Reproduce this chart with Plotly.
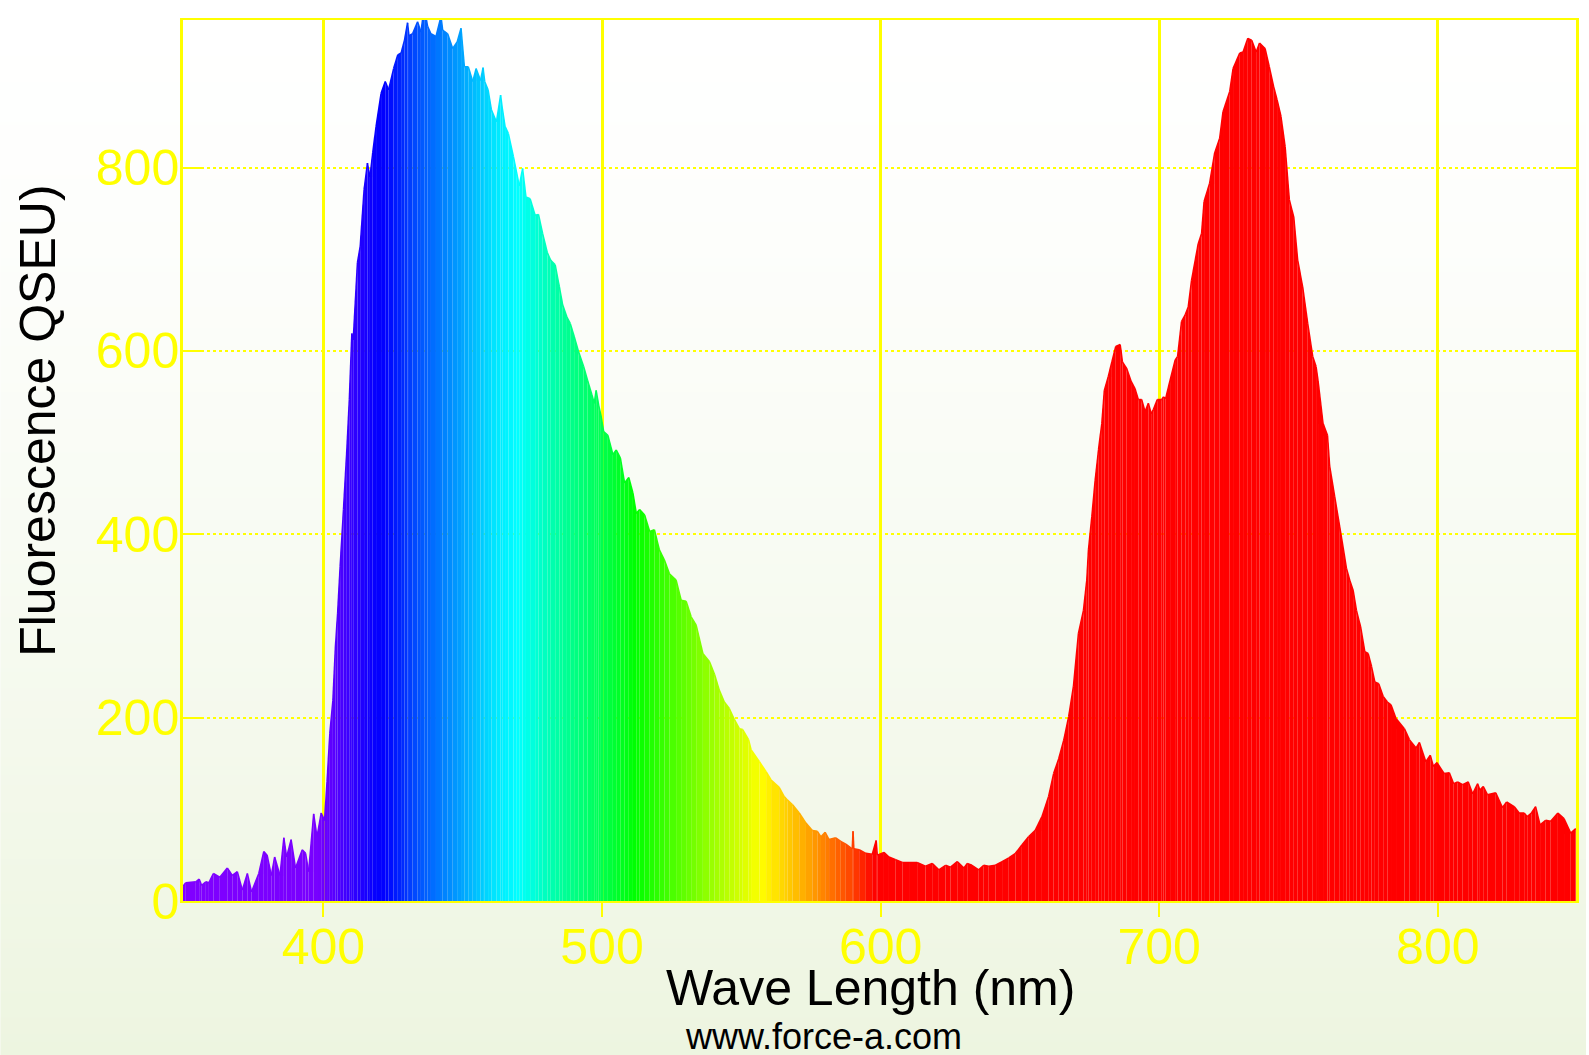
import base64
import struct
import zlib

import plotly.graph_objects as go

# ---------------- data ----------------
wavelength_nm = [
    349.6, 350.6, 354.2, 355.4, 356.3, 357.8, 358.9, 360.5, 362.8, 365.5,
    367.3, 369.1, 370.9, 372.7, 374.2, 376.8, 378.6, 379.8, 381.3, 382.5,
    384.4, 385.8, 386.8, 388.4, 390.0, 392.4, 393.6, 394.7, 396.5, 397.7,
    399.2, 400.4, 401.3, 402.3, 403.4, 404.3, 405.1, 406.0, 407.2, 408.4,
    409.3, 410.2, 410.7, 412.2, 413.2, 414.6, 415.8, 416.7, 417.7, 418.9,
    420.7, 422.2, 423.4, 425.2, 426.7, 427.9, 429.1, 430.2, 430.7, 432.0,
    433.8, 435.0, 436.2, 437.4, 438.6, 440.4, 442.2, 442.8, 444.6, 446.4,
    448.0, 449.4, 450.6, 452.0, 453.6, 454.8, 456.4, 457.3, 457.9, 459.1,
    460.3, 462.1, 463.6, 464.2, 465.2, 466.4, 468.2, 469.4, 470.3, 471.5,
    472.7, 474.2, 476.0, 477.2, 478.7, 480.4, 481.6, 483.2, 484.7, 485.9,
    487.4, 488.6, 490.0, 491.6, 493.4, 494.8, 496.4, 497.2, 497.9, 498.8,
    499.6, 500.6, 502.1, 503.9, 505.1, 506.6, 508.1, 509.6, 511.1, 512.3,
    513.5, 515.3, 517.1, 518.8, 520.6, 522.4, 524.2, 526.6, 528.4, 530.2,
    532.0, 533.8, 536.2, 538.6, 540.4, 542.1, 543.9, 545.7, 547.5, 549.3,
    550.5, 552.6, 553.5, 556.5, 558.9, 560.7, 563.6, 565.4, 566.6, 568.4,
    570.8, 573.2, 575.5, 577.3, 578.6, 580.1, 581.5, 583.9, 585.7, 587.5,
    589.8, 590.1, 590.4, 592.3, 594.7, 597.0, 598.4, 598.8, 601.2, 603.0,
    605.4, 607.8, 610.2, 613.1, 616.1, 618.5, 620.9, 623.3, 625.1, 627.5,
    629.9, 631.1, 632.8, 635.2, 637.0, 638.8, 641.2, 643.6, 646.0, 648.4,
    650.7, 653.1, 655.5, 657.9, 660.3, 662.1, 663.9, 665.7, 667.5, 669.2,
    671.0, 672.8, 674.0, 674.6, 675.8, 677.0, 678.2, 679.4, 680.3, 681.7,
    683.0, 684.4, 686.0, 686.8, 688.3, 689.9, 691.3, 692.5, 693.7, 694.9,
    696.1, 697.1, 697.9, 699.3, 700.9, 701.5, 702.3, 703.9, 705.7, 706.6,
    708.0, 709.4, 710.4, 711.6, 714.0, 715.2, 716.1, 718.1, 719.9, 721.7,
    722.9, 725.3, 726.5, 728.9, 730.1, 731.8, 733.2, 734.8, 736.0, 738.0,
    739.5, 741.1, 742.3, 743.7, 745.2, 746.7, 748.3, 749.7, 751.5, 753.3,
    755.1, 756.3, 757.0, 758.8, 760.4, 761.2, 763.0, 764.8, 766.0, 767.2,
    768.4, 769.6, 770.8, 772.3, 773.8, 775.0, 776.2, 777.4, 778.8, 780.4,
    781.9, 783.2, 785.0, 788.0, 789.8, 792.2, 793.4, 795.7, 797.3, 798.4,
    799.7, 802.3, 804.1, 805.7, 807.1, 808.9, 810.9, 812.5, 814.3, 815.1,
    816.3, 817.8, 820.8, 823.2, 824.7, 827.4, 829.2, 831.0, 832.1, 833.6,
    835.1, 836.7, 838.7, 840.5, 843.1, 845.3, 847.7, 849.5,
]

fluorescence_qseu = [
    16, 20, 21, 24, 17, 21, 20, 30, 26, 36,
    28, 32, 12, 30, 10, 30, 54, 50, 28, 48,
    28, 69, 48, 67, 36, 56, 52, 32, 95, 70,
    96, 88, 130, 183, 219, 277, 314, 365, 427, 492,
    547, 619, 612, 696, 714, 776, 805, 790, 816, 845,
    881, 894, 885, 908, 923, 925, 939, 958, 944, 946,
    959, 948, 975, 954, 946, 943, 965, 950, 946, 930,
    937, 952, 910, 910, 894, 908, 895, 909, 894, 885,
    863, 850, 879, 865, 845, 837, 812, 794, 780, 799,
    768, 766, 748, 749, 728, 707, 699, 694, 670, 650,
    637, 630, 616, 599, 583, 568, 552, 543, 557, 541,
    530, 512, 508, 487, 492, 483, 456, 462, 445, 423,
    427, 421, 403, 405, 383, 372, 357, 350, 328, 327,
    310, 301, 270, 261, 247, 230, 217, 210, 198, 188,
    187, 176, 165, 152, 141, 132, 124, 114, 110, 105,
    96, 85, 77, 76, 70, 75, 67, 69, 65, 62,
    57, 76, 57, 56, 52, 51, 66, 50, 53, 48,
    45, 42, 42, 42, 38, 41, 34, 39, 37, 43,
    36, 41, 39, 34, 39, 38, 39, 43, 47, 52,
    61, 70, 77, 92, 114, 139, 155, 175, 201, 234,
    292, 317, 350, 383, 419, 459, 492, 521, 557, 572,
    588, 605, 607, 588, 581, 567, 559, 547, 547, 534,
    543, 532, 536, 547, 547, 550, 548, 568, 590, 594,
    632, 640, 648, 677, 717, 728, 763, 783, 816, 832,
    861, 883, 908, 925, 926, 941, 939, 926, 936, 930,
    910, 888, 874, 856, 823, 765, 746, 699, 670, 630,
    594, 583, 568, 521, 508, 474, 441, 408, 386, 363,
    350, 339, 317, 299, 272, 270, 256, 239, 237, 223,
    217, 214, 199, 188, 176, 167, 173, 152, 159, 147,
    151, 139, 140, 128, 130, 127, 130, 117, 128, 121,
    125, 116, 118, 102, 108, 103, 96, 96, 92, 96,
    103, 83, 88, 87, 96, 90, 74, 79,
]

x_tick_values = [400, 500, 600, 700, 800]
y_tick_values = [0, 200, 400, 600, 800]

# spectrum colour stops (wavelength -> colour)
spectrum_nm = [350, 398, 408, 418, 422, 434, 449, 462, 470, 482, 494, 500, 512, 535, 557, 575, 590, 598, 860]
spectrum_hex = ["#8000ff", "#7800ff", "#4000ff", "#0800ff", "#0000ff", "#0050ff", "#00a0ff",
                "#00e8ff", "#00ffff", "#00ffb0", "#00ff70", "#00ff50", "#00ff00", "#80ff00",
                "#ffff00", "#ffa000", "#ff4000", "#ff0000", "#ff0000"]


def hex_rgb(h):
    return tuple(int(h[i:i + 2], 16) for i in (1, 3, 5))


def spectral_color(w):
    if w <= spectrum_nm[0]:
        r, g, b = hex_rgb(spectrum_hex[0])
        return f"rgb({r},{g},{b})"
    for i in range(len(spectrum_nm) - 1):
        a, b_ = spectrum_nm[i], spectrum_nm[i + 1]
        if a <= w <= b_:
            t = (w - a) / (b_ - a)
            c0, c1 = hex_rgb(spectrum_hex[i]), hex_rgb(spectrum_hex[i + 1])
            c = [round(c0[k] + (c1[k] - c0[k]) * t) for k in range(3)]
            return f"rgb({c[0]},{c[1]},{c[2]})"
    r, g, b = hex_rgb(spectrum_hex[-1])
    return f"rgb({r},{g},{b})"


# ---------------- background gradient image ----------------
W_FIG, H_FIG = 1589, 1055
top_rgb = (255, 255, 255)
bot_rgb = (237, 245, 224)


def gradient_png(height):
    rows = []
    for yy in range(height):
        t = (yy / (height - 1)) ** 1.4
        c = bytes(round(top_rgb[k] + (bot_rgb[k] - top_rgb[k]) * t) for k in range(3))
        rows.append(b"\x00" + c * 2)
    raw = b"".join(rows)

    def chunk(tag, data):
        return struct.pack(">I", len(data)) + tag + data + struct.pack(">I", zlib.crc32(tag + data) & 0xffffffff)

    png = b"\x89PNG\r\n\x1a\n"
    png += chunk(b"IHDR", struct.pack(">IIBBBBB", 2, height, 8, 2, 0, 0, 0))
    png += chunk(b"IDAT", zlib.compress(raw, 9))
    png += chunk(b"IEND", b"")
    return "data:image/png;base64," + base64.b64encode(png).decode()


# ---------------- figure ----------------
ML, MR, MT, MB = 183, 10, 20, 154
PW = W_FIG - ML - MR
PH = H_FIG - MT - MB

fig = go.Figure()

for i in range(len(wavelength_nm) - 1):
    col = spectral_color((wavelength_nm[i] + wavelength_nm[i + 1]) / 2)
    fig.add_trace(go.Scatter(
        x=[wavelength_nm[i], wavelength_nm[i + 1]],
        y=[fluorescence_qseu[i], fluorescence_qseu[i + 1]],
        mode="lines",
        line=dict(color=col, width=1.5),
        fill="tozeroy",
        fillcolor=col,
        hoverinfo="skip",
        showlegend=False,
    ))

YELLOW = "#ffff00"
FONT = "Liberation Sans, Arial, sans-serif"

fig.update_layout(
    width=W_FIG,
    height=H_FIG,
    margin=dict(l=ML, r=MR, t=MT, b=MB, pad=0),
    paper_bgcolor="rgba(0,0,0,0)",
    plot_bgcolor="rgba(0,0,0,0)",
    font=dict(family=FONT),
    showlegend=False,
    images=[dict(
        source=gradient_png(H_FIG),
        xref="paper", yref="paper",
        x=-ML / PW, y=1 + MT / PH,
        sizex=W_FIG / PW, sizey=H_FIG / PH,
        xanchor="left", yanchor="top",
        sizing="stretch", layer="below",
    )],
    xaxis=dict(
        range=[349.6, 849.6],
        tickmode="array", tickvals=x_tick_values,
        ticks="outside", ticklen=14, tickwidth=2, tickcolor=YELLOW,
        tickfont=dict(size=50, color=YELLOW, family=FONT),
        ticklabelstandoff=-13,
        showline=True, linecolor=YELLOW, linewidth=2, mirror=True,
        showgrid=True, gridcolor=YELLOW, gridwidth=2.5,
        zeroline=False,
    ),
    yaxis=dict(
        range=[0, 961],
        tickmode="array", tickvals=y_tick_values,
        ticks="inside", ticklen=20, tickwidth=2, tickcolor=YELLOW,
        tickfont=dict(size=50, color=YELLOW, family=FONT),
        ticklabelstandoff=-9,
        showline=True, linecolor=YELLOW, linewidth=2.5, mirror="ticks",
        showgrid=True, gridcolor=YELLOW, gridwidth=2, griddash="dot",
        zeroline=False,
    ),
    annotations=[
        dict(text="Wave Length (nm)", xref="paper", yref="paper",
             x=(871.5 - ML) / PW, y=(H_FIG - MB - 988) / PH,
             xanchor="center", yanchor="middle", showarrow=False,
             font=dict(size=50, color="black", family=FONT)),
        dict(text="Fluorescence QSEU)", xref="paper", yref="paper",
             x=(37.5 - ML) / PW, y=(H_FIG - MB - 421) / PH,
             xanchor="center", yanchor="middle", showarrow=False, textangle=-90,
             font=dict(size=50, color="black", family=FONT)),
        dict(text="www.force-a.com", xref="paper", yref="paper",
             x=(824.5 - ML) / PW, y=(H_FIG - MB - 1036) / PH,
             xanchor="center", yanchor="middle", showarrow=False,
             font=dict(size=36, color="black", family=FONT)),
    ],
)

fig.write_html("out.html")
